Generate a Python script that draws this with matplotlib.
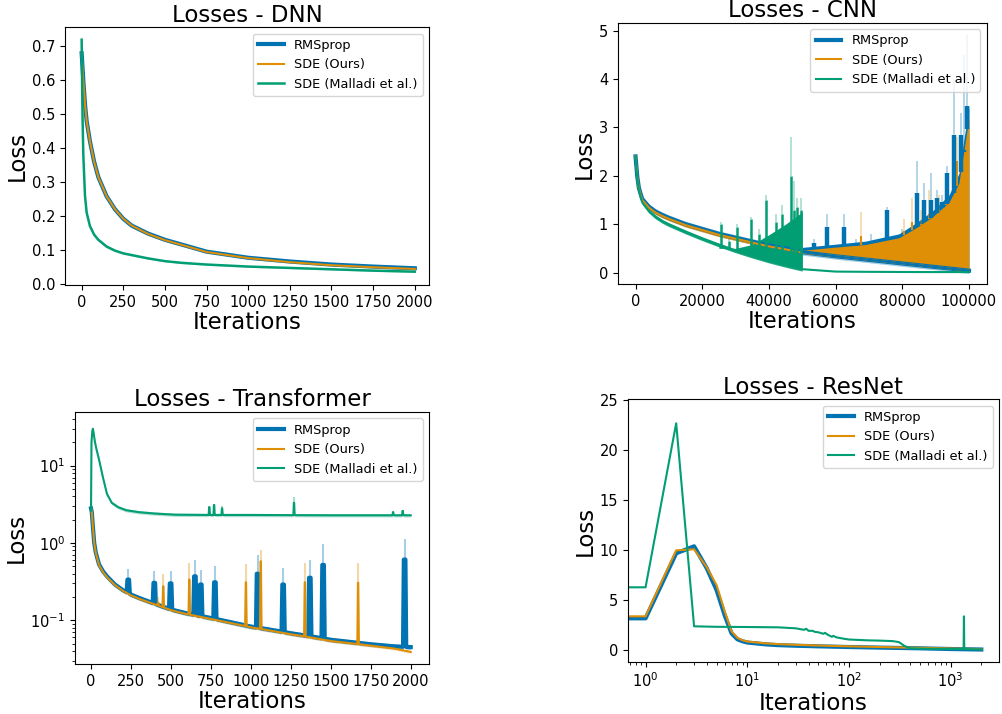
import numpy as np
import matplotlib.pyplot as plt

BLUE = '#0173b2'
ORANGE = '#de8f05'
GREEN = '#029e73'

# ---------------- DNN ----------------
dnn_iters = [0, 5, 10, 20, 30, 50, 75, 100, 150, 200, 250, 300, 400, 500, 600, 750, 1000, 1250, 1500, 1750, 2000]
dnn_rms = [0.68, 0.64, 0.60, 0.53, 0.48, 0.42, 0.36, 0.315, 0.258, 0.22, 0.192, 0.172, 0.148, 0.13, 0.116, 0.095, 0.077, 0.066, 0.057, 0.051, 0.046]
dnn_ours = [0.68, 0.64, 0.60, 0.53, 0.48, 0.42, 0.36, 0.315, 0.258, 0.22, 0.192, 0.172, 0.147, 0.129, 0.115, 0.094, 0.076, 0.064, 0.055, 0.049, 0.044]
dnn_mall = [0.72, 0.50, 0.38, 0.26, 0.21, 0.17, 0.145, 0.13, 0.11, 0.098, 0.09, 0.085, 0.075, 0.067, 0.062, 0.057, 0.051, 0.047, 0.043, 0.039, 0.036]
dnn_rms_std = [0, 0.01, 0.012, 0.014, 0.014, 0.013, 0.012, 0.011, 0.009, 0.008, 0.007, 0.006, 0.005, 0.004, 0.004, 0.003, 0.003, 0.003, 0.003, 0.003, 0.003]
dnn_mall_std = [0, 0.008, 0.008, 0.007, 0.006, 0.005, 0.005, 0.004, 0.004, 0.003, 0.003, 0.003, 0.002, 0.002, 0.002, 0.002, 0.002, 0.002, 0.002, 0.002, 0.002]

# ---------------- CNN ----------------
cnn_x = [0, 500, 1000, 2000, 4000, 6000, 8000, 10000, 15000, 20000, 25000, 30000, 35000, 40000, 45000, 50000, 60000, 70000, 80000, 90000, 100000]
cnn_rms = [2.4, 2.0, 1.75, 1.52, 1.36, 1.26, 1.19, 1.13, 1.0, 0.9, 0.8, 0.72, 0.64, 0.56, 0.5, 0.42, 0.336, 0.262, 0.188, 0.114, 0.04]
cnn_ours = [2.4, 2.0, 1.74, 1.5, 1.34, 1.24, 1.17, 1.11, 0.98, 0.88, 0.78, 0.70, 0.62, 0.54, 0.48, 0.41, 0.336, 0.262, 0.188, 0.114, 0.04]
cnn_mall = [2.4, 1.95, 1.7, 1.45, 1.27, 1.15, 1.06, 0.99, 0.84, 0.7, 0.57, 0.45, 0.34, 0.24, 0.15, 0.07, 0.02, 0.015, 0.012, 0.01, 0.01]

cnn_ours_env_x = [50000, 59000, 69000, 79000, 84000, 89000, 94000, 97000, 100000]
cnn_ours_env = [0.46, 0.52, 0.58, 0.72, 0.92, 1.15, 1.45, 1.85, 3.2]
cnn_rms_env = [0.52, 0.58, 0.65, 0.8, 1.02, 1.27, 1.6, 2.05, 3.45]
cnn_mall_env_x = [25000, 30000, 35000, 40000, 45000, 48000, 50000]
cnn_mall_env = [0.5, 0.5, 0.58, 0.78, 1.0, 1.15, 1.25]

cnn_mall_spike_x = [25500, 28000, 30500, 34500, 37000, 39000, 42000, 44000, 46500, 47500, 48500, 49500]
cnn_mall_spike_y = [1.0, 0.65, 0.95, 1.1, 0.8, 1.5, 1.05, 1.2, 2.0, 1.3, 1.35, 1.3]
cnn_mall_spike_tip = [1.05, 0.7, 1.0, 1.15, 0.9, 1.6, 1.2, 1.4, 2.8, 1.9, 1.55, 1.55]
cnn_rms_spike_x = [53500, 57500, 62500, 66000, 70500, 75500, 80000, 84500, 86500, 88500, 90500, 92000, 93500, 95500, 97500, 98500, 99500]
cnn_rms_spike_y = [0.62, 0.95, 0.95, 0.55, 0.62, 1.3, 0.75, 1.65, 1.5, 1.5, 1.55, 1.45, 2.05, 2.85, 2.85, 2.5, 3.45]
cnn_rms_spike_tip = [0.7, 1.2, 1.2, 0.7, 0.8, 1.35, 0.9, 2.3, 1.85, 2.05, 1.7, 1.6, 2.2, 4.0, 3.3, 4.5, 4.9]
cnn_ours_spike_x = [67500, 80500, 83000, 85500, 88000, 91000, 93000, 96500]
cnn_ours_spike_y = [0.75, 0.85, 1.05, 1.0, 1.2, 1.3, 1.45, 2.3]
cnn_ours_spike_tip = [1.25, 1.1, 1.55, 1.3, 1.7, 1.6, 1.8, 2.8]

# ---------------- Transformer ----------------
tr_iters = [0, 5, 10, 20, 30, 50, 75, 100, 150, 200, 250, 300, 400, 500, 600, 750, 1000, 1250, 1500, 1750, 1900, 2000]
tr_rms = [2.8, 2.5, 1.8, 1.0, 0.75, 0.53, 0.43, 0.37, 0.29, 0.245, 0.215, 0.195, 0.163, 0.138, 0.123, 0.107, 0.083, 0.068, 0.056, 0.049, 0.046, 0.045]
tr_ours = [2.9, 2.5, 1.8, 1.0, 0.74, 0.52, 0.42, 0.36, 0.285, 0.24, 0.21, 0.19, 0.16, 0.135, 0.12, 0.104, 0.081, 0.066, 0.054, 0.047, 0.043, 0.039]
tr_mall_iters = [0, 3, 8, 12, 18, 25, 35, 50, 75, 100, 130, 170, 220, 300, 400, 525, 750, 1000, 1500, 2000]
tr_mall = [2.6, 20, 28, 30, 25, 20, 16, 12, 7, 4.3, 3.3, 2.9, 2.65, 2.5, 2.4, 2.32, 2.3, 2.3, 2.28, 2.28]

tr_rms_spike_x = [233, 396, 498, 650, 687, 775, 1042, 1202, 1369, 1452, 1962]
tr_rms_spike_y = [0.336, 0.305, 0.30, 0.37, 0.29, 0.31, 0.40, 0.29, 0.355, 0.52, 0.61]
tr_rms_spike_tip = [0.46, 0.43, 0.44, 0.61, 0.45, 0.50, 0.69, 0.48, 0.61, 0.96, 1.13]
tr_ours_spike_x = [420, 452, 615, 969, 1062, 1338, 1671]
tr_ours_spike_y = [0.17, 0.275, 0.336, 0.31, 0.58, 0.31, 0.305]
tr_ours_spike_tip = [0.2, 0.40, 0.55, 0.54, 0.82, 0.55, 0.55]
tr_mall_spike_x = [740, 770, 820, 1270, 1890, 1950]
tr_mall_spike_y = [2.9, 3.1, 2.8, 3.3, 2.5, 2.6]
tr_mall_spike_tip = [3.0, 3.2, 3.0, 3.9, 2.6, 2.7]

# ---------------- ResNet ----------------
rn_x = [0, 1, 2, 3, 4, 5, 6, 7, 8, 9, 10, 15, 20, 30, 50, 100, 200, 500, 1000, 2000]
rn_rms = [3.2, 3.2, 9.7, 10.4, 8.2, 6.0, 3.5, 1.7, 1.1, 0.9, 0.78, 0.6, 0.52, 0.46, 0.4, 0.33, 0.27, 0.2, 0.13, 0.08]
rn_ours = [3.4, 3.4, 10.0, 10.1, 8.3, 6.5, 3.9, 1.9, 1.25, 1.0, 0.88, 0.7, 0.62, 0.55, 0.48, 0.4, 0.33, 0.25, 0.18, 0.12]
rn_mall_x = [0, 1, 2, 3, 5, 10, 20, 30, 36, 38, 40, 44, 46, 50, 56, 58, 62, 68, 70, 75, 90, 100, 150, 200, 270, 310, 350, 400, 600, 1000, 1340, 1350, 1360, 2000]
rn_mall = [6.3, 6.3, 22.7, 2.4, 2.35, 2.33, 2.3, 2.2, 2.05, 2.15, 1.95, 1.95, 1.85, 1.8, 1.65, 1.75, 1.55, 1.35, 1.45, 1.3, 1.15, 1.08, 1.0, 0.97, 0.92, 0.82, 0.45, 0.2, 0.15, 0.13, 0.12, 3.4, 0.12, 0.1]


def add_spikes(x, y, sx, sy, w, flat):
    x = np.asarray(x, float)
    y = np.asarray(y, float)
    keep = np.ones(len(x), bool)
    for s in sx:
        keep &= ~((x > s - w) & (x < s + w))
    xs = list(x[keep])
    ys = list(y[keep])
    for s, p in zip(sx, sy):
        xs += [s - w, s - flat, s + flat, s + w]
        ys += [np.interp(s - w, x, y), p, p, np.interp(s + w, x, y)]
    order = np.argsort(xs, kind='stable')
    return np.array(xs)[order], np.array(ys)[order]


TITLE = 16.5
LABEL = 16.5
TICK = 10.5
LEG = 9.3

fig = plt.figure(figsize=(10.03, 7.14), dpi=100)
ax1 = fig.add_axes([0.0648, 0.601, 0.363, 0.361])
ax2 = fig.add_axes([0.616, 0.602, 0.368, 0.366])
ax3 = fig.add_axes([0.0748, 0.070, 0.353, 0.353])
ax4 = fig.add_axes([0.626, 0.0728, 0.370, 0.368])

# DNN
ax1.fill_between(dnn_iters, np.array(dnn_rms) - dnn_rms_std, np.array(dnn_rms) + dnn_rms_std,
                 color=BLUE, alpha=0.3, lw=0)
ax1.plot(dnn_iters, dnn_rms, color=BLUE, lw=3, label='RMSprop')
ax1.fill_between(dnn_iters, np.array(dnn_ours) - dnn_rms_std, np.array(dnn_ours) + dnn_rms_std,
                 color=ORANGE, alpha=0.3, lw=0)
ax1.plot(dnn_iters, dnn_ours, color=ORANGE, lw=1.5, label='SDE (Ours)')
ax1.fill_between(dnn_iters, np.array(dnn_mall) - dnn_mall_std, np.array(dnn_mall) + dnn_mall_std,
                 color=GREEN, alpha=0.3, lw=0)
ax1.plot(dnn_iters, dnn_mall, color=GREEN, lw=1.8, label='SDE (Malladi et al.)')
ax1.set_xlim(-100, 2086)
ax1.set_ylim(-0.003, 0.757)
ax1.set_xticks([0, 250, 500, 750, 1000, 1250, 1500, 1750, 2000])
ax1.set_title('Losses - DNN', fontsize=TITLE, pad=4)

# CNN
ax2.fill_between(cnn_x, np.array(cnn_rms) - 0.06, np.array(cnn_rms) + 0.06, color=BLUE, alpha=0.35, lw=0)
ax2.plot(cnn_x, cnn_rms, color=BLUE, lw=3, label='RMSprop')
g = np.linspace(cnn_ours_env_x[0], cnn_ours_env_x[-1], 300)
ax2.fill_between(g, np.interp(g, cnn_x, cnn_rms), np.interp(g, cnn_ours_env_x, cnn_rms_env), color=BLUE, lw=0)
ax2.fill_between(cnn_x[:16], np.array(cnn_ours[:16]) - 0.035, np.array(cnn_ours[:16]) + 0.035, color=ORANGE, lw=0)
ax2.plot(cnn_x, cnn_ours, color=ORANGE, lw=1.5, label='SDE (Ours)')
ax2.fill_between(g, np.interp(g, cnn_x, cnn_ours) + 0.01, np.interp(g, cnn_ours_env_x, cnn_ours_env), color=ORANGE, lw=0)
ax2.vlines(cnn_ours_spike_x, np.interp(cnn_ours_spike_x, cnn_ours_env_x, cnn_ours_env), cnn_ours_spike_y,
           color=ORANGE, lw=1.5)
ax2.plot(cnn_x[15:], cnn_rms[15:], color=BLUE, lw=1.5)
ax2.fill_between(cnn_x[:16], np.array(cnn_mall[:16]) - 0.04, np.array(cnn_mall[:16]) + 0.04, color=GREEN, lw=0, alpha=0.9)
ax2.plot(cnn_x, cnn_mall, color=GREEN, lw=1.5, label='SDE (Malladi et al.)')
gm = np.linspace(cnn_mall_env_x[0], cnn_mall_env_x[-1], 200)
ax2.fill_between(gm, np.interp(gm, cnn_x, cnn_mall), np.interp(gm, cnn_mall_env_x, cnn_mall_env), color=GREEN, lw=0)
ax2.vlines(cnn_mall_spike_x, np.interp(cnn_mall_spike_x, cnn_x, cnn_mall), cnn_mall_spike_y, color=GREEN, lw=1.8)
ax2.vlines(cnn_mall_spike_x, cnn_mall_spike_y, cnn_mall_spike_tip, color=GREEN, lw=1.2, alpha=0.35)
rb = np.interp(cnn_rms_spike_x, cnn_ours_env_x, cnn_ours_env)
ax2.vlines(cnn_rms_spike_x, cnn_rms_spike_y, cnn_rms_spike_tip, color=BLUE, lw=1.2, alpha=0.35)
ax2.vlines(cnn_ours_spike_x, cnn_ours_spike_y, cnn_ours_spike_tip, color=ORANGE, lw=1.2, alpha=0.35)
ax2.vlines(cnn_rms_spike_x, rb, cnn_rms_spike_y, color=BLUE, lw=3.2, zorder=3)
ax2.set_xlim(-5300, 105400)
ax2.set_ylim(-0.24, 5.16)
ax2.set_xticks([0, 20000, 40000, 60000, 80000, 100000])
ax2.set_title('Losses - CNN', fontsize=TITLE, pad=4)

# Transformer
bx, by = add_spikes(tr_iters, tr_rms, tr_rms_spike_x, tr_rms_spike_y, 10, 5)
ax3.fill_between(bx, by * 0.93, by * 1.07, color=BLUE, alpha=0.35, lw=0)
ax3.plot(bx, by, color=BLUE, lw=3, label='RMSprop')
ax3.vlines(tr_rms_spike_x, tr_rms_spike_y, tr_rms_spike_tip, color=BLUE, lw=1.5, alpha=0.35)
ox, oy = add_spikes(tr_iters, tr_ours, tr_ours_spike_x, tr_ours_spike_y, 5, 1)
ax3.fill_between(ox, oy * 0.96, oy * 1.04, color=ORANGE, alpha=0.3, lw=0)
ax3.plot(ox, oy, color=ORANGE, lw=1.5, label='SDE (Ours)')
ax3.vlines(tr_ours_spike_x, tr_ours_spike_y, tr_ours_spike_tip, color=ORANGE, lw=1.5, alpha=0.35)
gx, gy = add_spikes(tr_mall_iters, tr_mall, tr_mall_spike_x, tr_mall_spike_y, 4, 1)
ax3.fill_between(gx, gy * 0.95, gy * 1.05, color=GREEN, alpha=0.3, lw=0)
ax3.plot(gx, gy, color=GREEN, lw=1.5, label='SDE (Malladi et al.)')
ax3.vlines(tr_mall_spike_x, tr_mall_spike_y, tr_mall_spike_tip, color=GREEN, lw=1.5, alpha=0.35)
ax3.set_yscale('log')
ax3.set_xlim(-100, 2115)
ax3.set_ylim(0.0272, 49.4)
ax3.set_xticks([0, 250, 500, 750, 1000, 1250, 1500, 1750, 2000])
ax3.set_title('Losses - Transformer', fontsize=TITLE, pad=4)

# ResNet
ax4.fill_between(rn_x, np.array(rn_rms) - 0.15, np.array(rn_rms) + 0.15, color=BLUE, alpha=0.3, lw=0)
ax4.plot(rn_x, rn_rms, color=BLUE, lw=3, label='RMSprop')
ax4.plot(rn_x, rn_ours, color=ORANGE, lw=1.5, label='SDE (Ours)')
ax4.plot(rn_mall_x, rn_mall, color=GREEN, lw=1.5, label='SDE (Malladi et al.)')
ax4.set_xscale('log')
ax4.set_xlim(0.67, 2985)
ax4.set_ylim(-1.17, 25.1)
ax4.set_title('Losses - ResNet', fontsize=TITLE, pad=4)

for ax in (ax1, ax2, ax3, ax4):
    ax.set_xlabel('Iterations', fontsize=LABEL, labelpad=1)
    ax.set_ylabel('Loss', fontsize=LABEL, labelpad=2)
    ax.tick_params(labelsize=TICK)
    ax.legend(loc='upper right', fontsize=LEG)

fig.savefig('out.png', dpi=100)
